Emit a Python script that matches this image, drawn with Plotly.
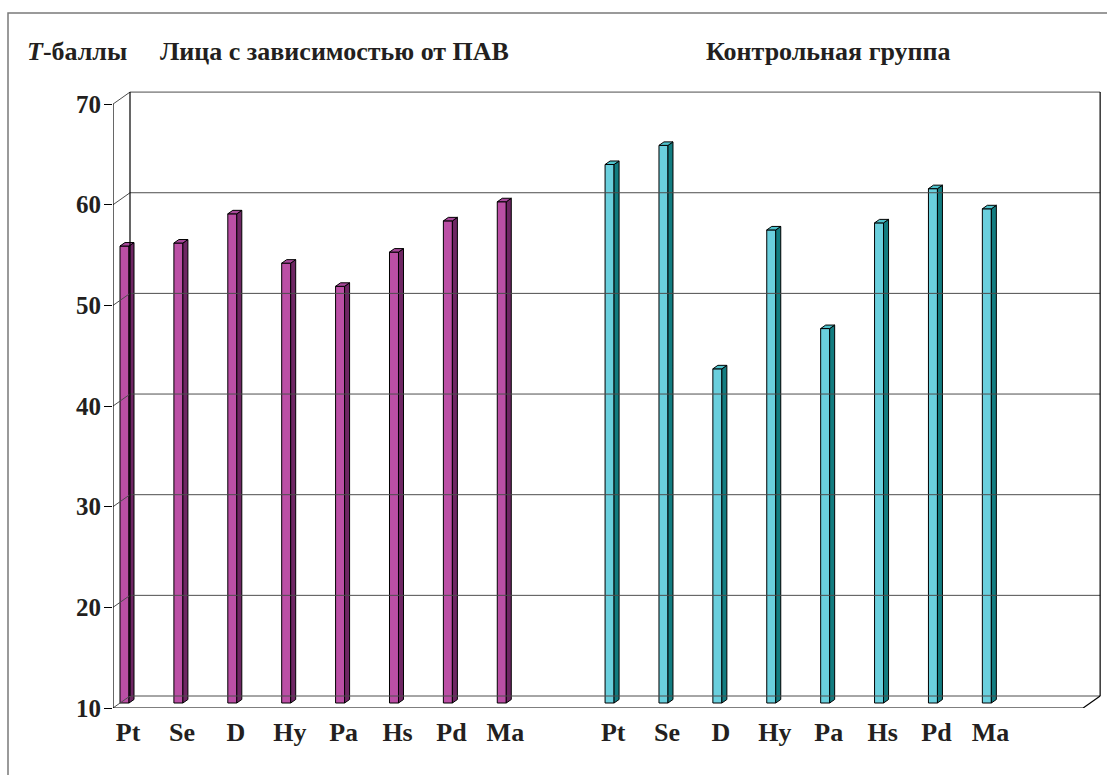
import plotly.graph_objects as go

# ---- data ----
scales = ["Pt", "Se", "D", "Hy", "Pa", "Hs", "Pd", "Ma"]
pav_values = [55.4, 55.7, 58.6, 53.7, 51.4, 54.8, 57.9, 59.8]
control_values = [63.5, 65.4, 43.2, 57.0, 47.2, 57.7, 61.1, 59.1]
n_slots = 18
pav_slots = list(range(0, 8))
control_slots = list(range(9, 17))
y_ticks = [10, 20, 30, 40, 50, 60, 70]

# ---- geometry (in axis units) ----
W, H = 1107, 775
ML, MR, MT, MB = 113, 5, 91, 67
x_max = 18.35
y_min, y_max = 10, 71.3
ppx = (W - ML - MR) / x_max
ppy = (H - MT - MB) / (y_max - y_min)
DX = 17 / ppx      # depth shift of back wall
DY = 12 / ppy
BASE = 10 + 5 / ppy  # bars sit slightly behind the front edge
BAR_OFF = 0.13
BAR_W = 9 / ppx
BDX = 5 / ppx
BDY = 3.5 / ppy

FONT = "Liberation Serif, Times New Roman, Tinos, serif"
TXT = "#231f20"

def px_x(p):
    return (p - ML) / (W - ML - MR)

def px_y(p):
    return (H - MB - p) / (H - MT - MB)

fig = go.Figure()

def add_series(slots, values, front, side, top):
    xs = [s + BAR_OFF + BAR_W / 2 for s in slots]
    fig.add_trace(go.Bar(x=xs, y=[v - 10 for v in values], base=BASE, width=BAR_W,
                         marker=dict(color=front, line=dict(color="black", width=1)),
                         hoverinfo="skip"))
    sx, sy, tx, ty = [], [], [], []
    for s, v in zip(slots, values):
        xl = s + BAR_OFF
        xr = xl + BAR_W
        vt = v + (BASE - 10)
        sx += [xr, xr + BDX, xr + BDX, xr, xr, None]
        sy += [BASE, BASE + BDY, vt + BDY, vt, BASE, None]
        tx += [xl, xr, xr + BDX, xl + BDX, xl, None]
        ty += [vt, vt, vt + BDY, vt + BDY, vt, None]
    fig.add_trace(go.Scatter(x=sx, y=sy, mode="lines", fill="toself", fillcolor=side,
                             line=dict(color="black", width=1), hoverinfo="skip"))
    fig.add_trace(go.Scatter(x=tx, y=ty, mode="lines", fill="toself", fillcolor=top,
                             line=dict(color="black", width=1), hoverinfo="skip"))

shapes = []
grid_col = "#4d4d4d"
for v in y_ticks:
    shapes.append(dict(type="line", x0=0, y0=v, x1=DX, y1=v + DY, line=dict(color=grid_col, width=1)))
    shapes.append(dict(type="line", x0=DX, y0=v + DY, x1=n_slots + DX, y1=v + DY,
                       line=dict(color=grid_col, width=1)))
shapes.append(dict(type="line", x0=DX, y0=10 + DY, x1=DX, y1=70 + DY, line=dict(color="black", width=1.2)))
shapes.append(dict(type="line", x0=n_slots + DX, y0=10 + DY, x1=n_slots + DX, y1=70 + DY,
                   line=dict(color="black", width=1.2)))
shapes.append(dict(type="line", x0=0, y0=10, x1=0, y1=70, line=dict(color="black", width=1.2)))
shapes.append(dict(type="line", x0=0, y0=10, x1=n_slots, y1=10, line=dict(color="black", width=1.2)))
shapes.append(dict(type="line", x0=n_slots, y0=10, x1=n_slots + DX, y1=10 + DY,
                   line=dict(color="black", width=1.2)))
shapes.append(dict(type="rect", xref="paper", yref="paper", x0=px_x(8), y0=px_y(800), x1=px_x(1130),
                   y1=px_y(13), line=dict(color="#7a7a7a", width=1.5), layer="below"))

fig.update_layout(shapes=shapes)

add_series(pav_slots, pav_values, "#BB4FA5", "#6E2663", "#A8489A")
add_series(control_slots, control_values, "#6ACFDD", "#127C80", "#4EC2CC")

tick_x = [s + 0.28 for s in pav_slots] + [s + 0.28 for s in control_slots]
tick_t = scales + scales

fig.update_xaxes(range=[0, x_max], tickvals=tick_x, ticktext=tick_t, showgrid=False, zeroline=False,
                 showline=False, ticks="", ticklabelstandoff=6,
                 tickfont=dict(family=FONT, size=26, color=TXT, weight="bold"))
fig.update_yaxes(range=[y_min, y_max], tickvals=y_ticks, showgrid=False, zeroline=False,
                 showline=False, ticks="outside", ticklen=8, tickcolor="black", tickwidth=1.2,
                 ticklabelstandoff=-2,
                 tickfont=dict(family=FONT, size=25, color=TXT, weight="bold"))

title_font = dict(family=FONT, size=26, color=TXT)
fig.add_annotation(text="<b><i>Т</i>-баллы</b>", xref="paper", yref="paper", x=px_x(25), y=px_y(52),
                   xanchor="left", yanchor="middle", showarrow=False, font=title_font)
fig.add_annotation(text="<b>Лица с зависимостью от ПАВ</b>", xref="paper", yref="paper", x=px_x(158),
                   y=px_y(52), xanchor="left", yanchor="middle", showarrow=False, font=title_font)
fig.add_annotation(text="<b>Контрольная группа</b>", xref="paper", yref="paper", x=px_x(704),
                   y=px_y(52), xanchor="left", yanchor="middle", showarrow=False, font=title_font)

fig.update_layout(width=W, height=H, autosize=False, margin=dict(l=ML, r=MR, t=MT, b=MB),
                  paper_bgcolor="white", plot_bgcolor="white", showlegend=False, hovermode=False,
                  barmode="overlay")

fig.write_html("out.html", config={"displayModeBar": False},
               post_script="document.body.style.margin='0';document.body.style.overflow='hidden';")
